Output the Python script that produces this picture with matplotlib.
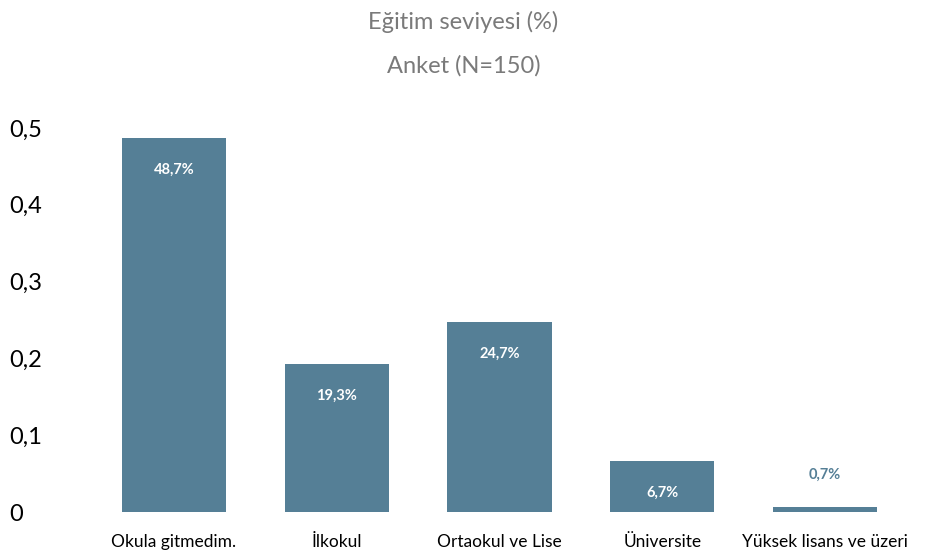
import matplotlib.pyplot as plt
from matplotlib.ticker import FuncFormatter

categories = ["Okula gitmedim.", "İlkokul", "Ortaokul ve Lise", "Üniversite", "Yüksek lisans ve üzeri"]
values = [0.487, 0.193, 0.247, 0.067, 0.007]
labels = ["48,7%", "19,3%", "24,7%", "6,7%", "0,7%"]
yticks = [0, 0.1, 0.2, 0.3, 0.4, 0.5]

bar_color = "#557f96"
plt.rcParams['font.family'] = ['Lato', 'DejaVu Sans']

fig = plt.figure(figsize=(9.27, 5.6), dpi=100)
ax = fig.add_axes([0.0999, 0.0857, 0.878, 0.6857])

x = list(range(len(categories)))
ax.bar(x, values, width=0.64, color=bar_color)

for xi, v, lab in zip(x, values, labels):
    if v > 0.05:
        ax.annotate(lab, (xi, v), xytext=(0, -23), textcoords="offset points",
                    ha="center", va="center", color="white", fontsize=10.5, fontweight="bold")
    else:
        ax.annotate(lab, (xi, v), xytext=(0, 23), textcoords="offset points",
                    ha="center", va="center", color=bar_color, fontsize=10.5, fontweight="bold")

ax.set_xlim(-0.5, 4.5)
ax.set_ylim(0, 0.5)
ax.set_yticks(yticks)
ax.yaxis.set_major_formatter(FuncFormatter(lambda v, p: f"{v:.1f}".replace(".", ",") if v else "0"))
ax.set_xticks(x)
ax.set_xticklabels(categories, fontsize=12.5)
ax.tick_params(axis="y", labelsize=17, length=0, pad=60)
ax.tick_params(axis="x", length=0, pad=16)
for lbl in ax.get_yticklabels():
    lbl.set_horizontalalignment("left")
for s in ax.spines.values():
    s.set_visible(False)

fig.text(0.5, 0.960, "Eğitim seviyesi (%)", ha="center", va="center", fontsize=17, color="#7a7a7a")
fig.text(0.5, 0.883, "Anket (N=150)", ha="center", va="center", fontsize=17, color="#7a7a7a")

fig.savefig("out.png", dpi=100)
